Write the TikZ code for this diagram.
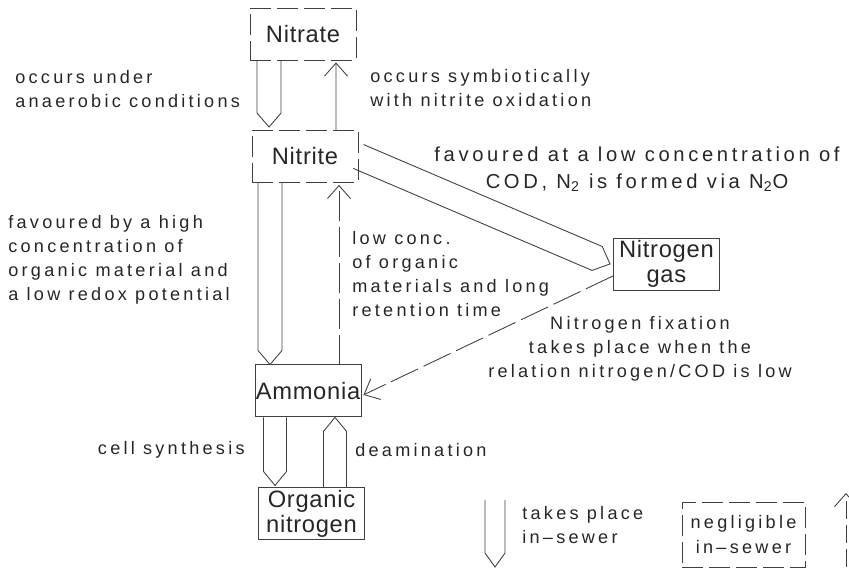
\documentclass[tikz,border=0pt]{standalone}
\usepackage{fontspec}
\setmainfont{Liberation Sans}
\newfontfamily\annfont{Liberation Sans}[LetterSpace=18]
\newfontfamily\boxfont{Liberation Sans}[LetterSpace=3]
\usetikzlibrary{arrows.meta, calc}
\newcommand\noteSize{\fontsize{10.3}{13.7}\selectfont}
\newcommand\bigNoteSize{\fontsize{11.5}{15.5}\selectfont}
\newcommand\boxSize{\fontsize{13.5}{14.2}\selectfont}
\tikzstyle{sbox} = [rectangle, draw=black!75, line width=0.5pt, minimum width=2.12cm, minimum height=1.04cm, inner sep=0pt, align=center, text=black!85, font=\boxfont\boxSize]
\tikzstyle{dbox} = [sbox, dash pattern=on 0.42cm off 0.12cm]
\tikzstyle{note} = [align=left, inner sep=0pt, text=black!85, font=\annfont\noteSize]
\tikzstyle{line} = [draw=black!75, line width=0.5pt, -{Straight Barb[length=0.26cm, width=0.46cm]}]
\tikzstyle{dline} = [line, dash pattern=on 0.6cm off 0.12cm]
\tikzset{fat/.style={draw=black!75, line width=0.5pt, line join=miter,
  to path={($(\tikztostart)!#1!90:(\tikztotarget)$)
   -- ($(\tikztotarget)!0.28cm!(\tikztostart)!#1!-90:(\tikztostart)$)
   -- (\tikztotarget)
   -- ($(\tikztotarget)!0.28cm!(\tikztostart)!#1!90:(\tikztostart)$)
   -- ($(\tikztostart)!#1!-90:(\tikztotarget)$)}},
  fat/.default=0.24cm}

\begin{document}
\begin{tikzpicture} [x=0.02cm, y=-0.02cm, node distance=2.45cm]
\useasboundingbox (0,0) rectangle (849,568);

\node (nitrate) [dbox] at (303,34) {Nitrate};
\node (nitrite) [dbox, below of = nitrate, xshift=0.04cm] {Nitrite};
\node (ammonia) [sbox, below of = nitrite, xshift=0.06cm, yshift=-2.24cm] {Ammonia};
\node (organic) [sbox, below of = ammonia, xshift=0.07cm] {Organic\\nitrogen};
\node (ngas) [sbox, right of = nitrite, xshift=4.78cm, yshift=-2.15cm] {Nitrogen\\gas};

\node (anaer) [note, anchor=west] at (15,89) {occurs under\\anaerobic conditions};
\node (symb) [note, anchor=west] at (370,88) {occurs symbiotically\\with nitrite oxidation};
\node (lowcod) [note, align=center, font=\annfont\bigNoteSize] at (637,169) {favoured at a low concentration of\\COD, N\textsubscript{2} is formed via N\textsubscript{2}O};
\node (high) [note, anchor=west] at (8,260) {favoured by a high\\concentration of\\organic material and\\a low redox potential};
\node (lowconc) [note, anchor=west] at (352,274) {low conc.\\of organic\\materials and long\\retention time};
\node (fix) [note, align=center] at (640,349) {Nitrogen fixation\\takes place when the\\relation nitrogen/COD is low};
\node (cell) [note, anchor=east] at (245,450) {cell synthesis};
\node (deam) [note, anchor=west] at (355,450) {deamination};

\draw [fat] ([xshift=-0.68cm]nitrate.south) to ([xshift=-0.72cm,yshift=0.06cm]nitrite.north);
\draw [fat] ([xshift=-0.7cm]nitrite.south) to ([xshift=-0.76cm]ammonia.north);
\draw [fat=0.23cm] ([xshift=-0.66cm]ammonia.south) to ([xshift=-0.73cm,yshift=0.03cm]organic.north);
\draw [fat=0.23cm] ([xshift=0.47cm]organic.north) to ([xshift=0.54cm]ammonia.south);
\draw [fat=0.26cm] (nitrite.east) to ([xshift=-0.06cm]ngas.west);

\draw [line] ([xshift=0.62cm]nitrite.north) -- ([xshift=0.66cm,yshift=-0.04cm]nitrate.south);
\draw [dline] ([xshift=0.62cm]ammonia.north) -- ([xshift=0.68cm,yshift=-0.04cm]nitrite.south);
\draw [dline] ([yshift=-0.24cm]ngas.west) -- ([xshift=0.04cm,yshift=-0.08cm]ammonia.east);

% key
\coordinate (keytail) at (495,500);
\coordinate (keyhead) at (495,567);
\draw [fat=0.2cm] (keytail) to (keyhead);
\node (keytxt) [note, anchor=west] at (522,525) {takes place\\in–sewer};
\node (keybox) [dbox, minimum width=2.46cm, minimum height=1.3cm, font=\annfont\noteSize] at (743.5,534.5) {negligible\\in–sewer};
\coordinate (keyfrom) at (846,567);
\coordinate (keyto) at (846,493);
\draw [dline, dash pattern=on 0.36cm off 0.12cm] (keyfrom) -- (keyto);

\end{tikzpicture}
\end{document}
